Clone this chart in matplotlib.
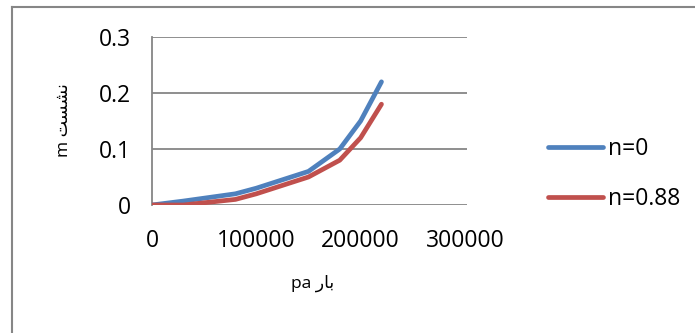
import matplotlib
matplotlib.use("Agg")
import matplotlib.pyplot as plt
from matplotlib.lines import Line2D

# data
pressure = [0, 30000, 80000, 100000, 150000, 180000, 200000, 220000]
settle_n0 = [0, 0.007, 0.02, 0.03, 0.06, 0.10, 0.15, 0.22]
settle_n088 = [0, 0, 0.01, 0.02, 0.05, 0.08, 0.12, 0.18]
series_names = ["n=0", "n=0.88"]
xticks = [0, 100000, 200000, 300000]
yticks = [0, 0.1, 0.2, 0.3]
ytick_labels = ["0", "0.1", "0.2", "0.3"]
xlabel_text = "pa \uFEAD\uFE8E\uFE91"          # بار (shaped, visual order)
ylabel_text = "m \uFE96\uFEB4\uFEB8\uFEE7"     # نشست (shaped, visual order)

plt.rcParams['font.family'] = ['Open Sans', 'DejaVu Sans']

W, H = 695, 333
fig = plt.figure(figsize=(W / 100, H / 100), dpi=100)
ax = fig.add_axes([152 / W, 1 - 205 / H, (467 - 152) / W, (205 - 37) / H])

blue = "#4F81BD"
red = "#C0504D"
grid = "#868686"

ax.plot(pressure, settle_n0, color=blue, lw=3.4, solid_capstyle='round',
        solid_joinstyle='round', label=series_names[0], zorder=3)
ax.plot(pressure, settle_n088, color=red, lw=3.4, solid_capstyle='round',
        solid_joinstyle='round', label=series_names[1], zorder=3)

ax.set_xlim(0, 302000)
ax.set_ylim(0, 0.3)
ax.set_xticks(xticks)
ax.set_xticklabels([str(v) for v in xticks])
ax.set_yticks(yticks)
ax.set_yticklabels(ytick_labels)
ax.yaxis.grid(True, color=grid, lw=1.3)
ax.set_axisbelow(True)
for s in ["top", "right", "bottom"]:
    ax.spines[s].set_visible(False)
ax.spines["left"].set_color(grid)
ax.spines["left"].set_linewidth(1.3)
ax.tick_params(axis="both", length=0, labelsize=16.5, colors="black")
ax.tick_params(axis="y", pad=15)
ax.tick_params(axis="x", pad=17)

fig.text(313 / W, 1 - 283 / H, xlabel_text, ha="center", va="center", fontsize=12.5)
fig.text(64 / W, 1 - 120 / H, ylabel_text, ha="center", va="center",
         fontsize=12.5, rotation=90)

leg = ax.legend(loc="center left", bbox_to_anchor=(537 / W, 1 - 174 / H),
                bbox_transform=fig.transFigure, frameon=False, fontsize=16.5,
                handlelength=2.4, handletextpad=0.2, labelspacing=1.15,
                borderpad=0)

# outer chart border (top and left visible)
fig.add_artist(Line2D([12 / W, 1], [1 - 6.5 / H, 1 - 6.5 / H],
                      transform=fig.transFigure, color=grid, lw=1.5))
fig.add_artist(Line2D([12 / W, 12 / W], [0, 1 - 6.5 / H],
                      transform=fig.transFigure, color=grid, lw=1.5))

fig.savefig("out.png", dpi=100)
